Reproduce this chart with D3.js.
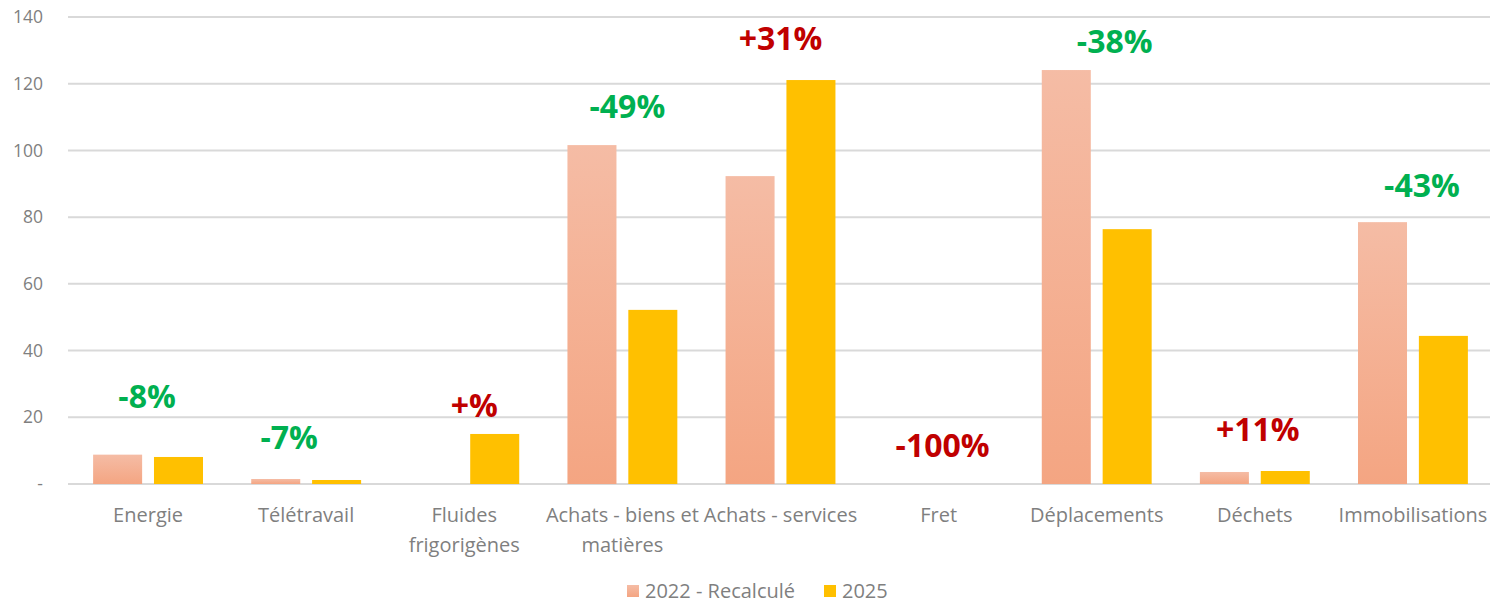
<!DOCTYPE html>
<html><head><meta charset="utf-8">
<script src="https://cdn.jsdelivr.net/npm/d3@7"></script>
<style>
html,body{margin:0;padding:0;background:#fff;}
svg{display:block;font-family:"Open Sans",sans-serif;}
</style></head>
<body><svg id="c" width="1493" height="603"></svg>
<script>
const categories = [["Energie"],["Télétravail"],["Fluides","frigorigènes"],["Achats - biens et","matières"],["Achats - services"],["Fret"],["Déplacements"],["Déchets"],["Immobilisations"]];
const series2022 = [8.8, 1.5, 0, 101.6, 92.3, 0, 124.1, 3.6, 78.5];
const series2025 = [8.1, 1.2, 15.0, 52.2, 121.1, 0, 76.4, 3.9, 44.4];
const changeLabels = ["-8%","-7%","+%","-49%","+31%","-100%","-38%","+11%","-43%"];
const changeLabelY = [26.1, 13.8, 23.4, 113, 133.4, 11.4, 132.5, 16.2, 89.3];
const changeLabelDx = [-1, -17, 10, 5, 0, 4, 18, 3, 9];
const yTicks = [0,20,40,60,80,100,120,140];
const seriesNames = ["2022 - Recalculé","2025"];

const svg = d3.select("#c");
const m = {left:69, right:1, top:17, bottom:119};
const W = 1493, H = 603;
const x = d3.scaleBand().domain(d3.range(categories.length)).range([m.left, W-m.right]).paddingInner(0).paddingOuter(0);
const y = d3.scaleLinear().domain([0,140]).range([H-m.bottom, m.top]);

const defs = svg.append("defs");
const g = defs.append("linearGradient").attr("id","salmon").attr("x1",0).attr("y1",0).attr("x2",0).attr("y2",1);
g.append("stop").attr("offset","0%").attr("stop-color","#F5BCA5");
g.append("stop").attr("offset","100%").attr("stop-color","#F4A582");

// gridlines
svg.append("g").selectAll("line").data(yTicks).join("line")
  .attr("x1", m.left-1).attr("x2", W-3)
  .attr("y1", d=>y(d)).attr("y2", d=>y(d))
  .attr("stroke","#D9D9D9").attr("stroke-width",2);

// y axis labels
svg.append("g").selectAll("text").data(yTicks).join("text")
  .attr("x", 43).attr("y", d=>y(d)).attr("dy","0.35em")
  .attr("text-anchor","end").attr("fill","#7F7F7F").attr("font-size",17.5)
  .text(d=> d===0 ? "-" : d);

const bw = x.bandwidth();
const barW = bw*0.31, gap = bw*0.075;
const data = categories.map((c,i)=>({i, a:series2022[i], b:series2025[i]}));

svg.append("g").selectAll("rect").data(data.filter(d=>d.a>0)).join("rect")
  .attr("x", d=>x(d.i)+bw/2-gap/2-barW).attr("width", barW)
  .attr("y", d=>y(d.a)).attr("height", d=>y(0)-y(d.a))
  .attr("fill","url(#salmon)");
svg.append("g").selectAll("rect").data(data.filter(d=>d.b>0)).join("rect")
  .attr("x", d=>x(d.i)+bw/2+gap/2).attr("width", barW)
  .attr("y", d=>y(d.b)).attr("height", d=>y(0)-y(d.b))
  .attr("fill","#FFC000");

// category labels
const cl = svg.append("g").selectAll("text").data(categories).join("text")
  .attr("x",(d,i)=>x(i)+bw/2).attr("y", 522)
  .attr("text-anchor","middle").attr("fill","#7F7F7F").attr("font-size",20);
cl.selectAll("tspan").data(d=>d).join("tspan")
  .attr("x", function(){return this.parentNode.getAttribute("x");})
  .attr("dy",(d,j)=> j===0?0:30).text(d=>d);

// change labels
svg.append("g").selectAll("text").data(changeLabels).join("text")
  .attr("x",(d,i)=>x(i)+bw/2+changeLabelDx[i]).attr("y",(d,i)=>y(changeLabelY[i]))
  .attr("dy","0.35em").attr("text-anchor","middle")
  .attr("font-size",32).attr("font-weight","bold")
  .attr("fill", d=> d.startsWith("-") && d!=="-100%" ? "#00B050" : "#C00000")
  .text(d=>d);

// legend
const lg = svg.append("g");
const lx = [627, 824];
const lcol = ["url(#salmon)","#FFC000"];
seriesNames.forEach((n,i)=>{
  lg.append("rect").attr("x",lx[i]).attr("y",585).attr("width",12).attr("height",12).attr("fill",lcol[i]);
  lg.append("text").attr("x",lx[i]+18).attr("y",591).attr("dy","0.35em")
    .attr("fill","#7F7F7F").attr("font-size",20).text(n);
});
</script></body></html>
